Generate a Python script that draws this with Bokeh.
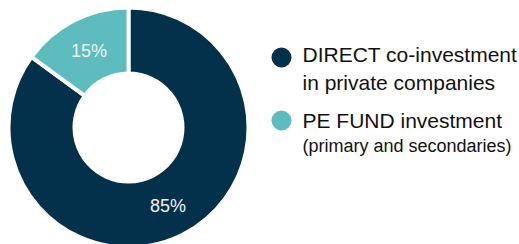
import numpy as np
from bokeh.plotting import figure
from bokeh.models import Range1d, ColumnDataSource
from bokeh.core.properties import value
from bokeh.embed import file_html
from bokeh.resources import INLINE

# ---- data ----
categories = ["DIRECT", "PE FUND"]
shares = [85, 15]
pct_labels = ["85%", "15%"]
colors = ["#03304A", "#5CBCBE"]
legend_main = ["DIRECT co-investment", "PE FUND investment"]
legend_sub = ["in private companies", "(primary and secondaries)"]

W, H = 519, 244
p = figure(width=W, height=H, output_backend="svg", toolbar_location=None,
           x_range=Range1d(0, W), y_range=Range1d(0, H), min_border=0)
p.axis.visible = False
p.grid.visible = False
p.outline_line_color = None
p.background_fill_color = "white"

def Y(yd):
    return H - yd

cx, cy = 128, Y(127)
r_out, r_in = 118, 56

# angles: start at top (90deg), go clockwise in data order
fr = np.array(shares, dtype=float) / sum(shares)
ends = np.pi / 2 - np.concatenate([[0], np.cumsum(fr)[:-1]]) * 2 * np.pi
starts = ends - fr * 2 * np.pi
mids = (starts + ends) / 2

src = ColumnDataSource(dict(start=starts, end=ends, color=colors,
                            lx=cx + 87 * np.cos(mids), ly=cy + 87 * np.sin(mids) - 1,
                            lab=pct_labels))
p.annular_wedge(x=cx, y=cy, inner_radius=r_in - 2, outer_radius=r_out + 2,
                start_angle="start", end_angle="end", fill_color="color",
                line_color="white", line_width=4, source=src)
p.text(x="lx", y="ly", text="lab", source=src, text_color="#F2F2F2",
       text_font=value("Liberation Sans"), text_font_size="18px",
       text_align="center", text_baseline="middle")

# legend
lx_dot, lx_txt = 281, 302
dot_y = [Y(57), Y(120)]
main_y = [Y(53.5), Y(120)]
sub_y = [Y(81.5), Y(145.5)]
sub_sizes = ["21px", "18px"]
p.scatter(x=[lx_dot] * 2, y=dot_y, size=20, color=colors, line_color=None)
p.text(x=[lx_txt] * 2, y=main_y, text=legend_main, text_color="#111111",
       text_font=value("Liberation Sans"), text_font_size="21px",
       text_baseline="middle")
for yy, t, fs in zip(sub_y, legend_sub, sub_sizes):
    p.text(x=[lx_txt], y=[yy], text=[t], text_color="#111111",
           text_font=value("Liberation Sans"), text_font_size=fs,
           text_baseline="middle")

open("out.html", "w").write(file_html(p, INLINE))
